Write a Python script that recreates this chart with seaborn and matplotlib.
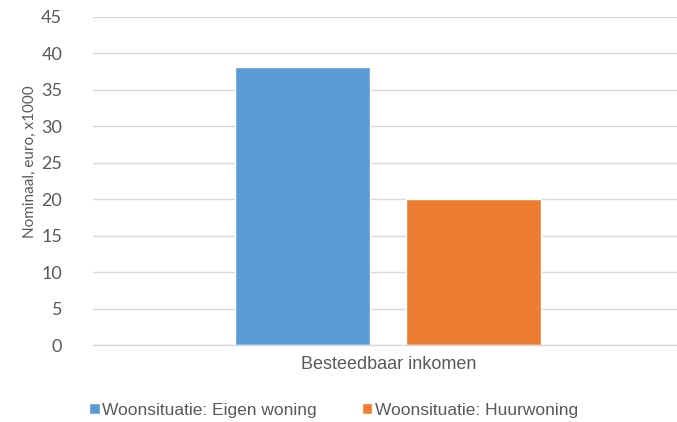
import matplotlib
matplotlib.use("Agg")
import matplotlib.pyplot as plt
import seaborn as sns
import pandas as pd

# ── Data ─────────────────────────────────────────────────────────────────────
categorie = ["Besteedbaar inkomen"]
woonsituatie = ["Woonsituatie: Eigen woning", "Woonsituatie: Huurwoning"]
waarden = [38.1, 20.0]          # nominaal, euro, x1000
kleuren = ["#5b9bd5", "#ed7d31"]
y_ticks = [0, 5, 10, 15, 20, 25, 30, 35, 40, 45]

df = pd.DataFrame({
    "categorie": categorie * len(woonsituatie),
    "woonsituatie": woonsituatie,
    "waarde": waarden,
})

sns.set_theme(style="white")
plt.rcParams["font.family"] = ["Lato", "DejaVu Sans"]

fig = plt.figure(figsize=(6.77, 4.22), dpi=100)
ax = fig.add_axes([0.137, 0.182, 0.873, 0.778])

sns.barplot(data=df, x="categorie", y="waarde", hue="woonsituatie",
            palette=kleuren, width=0.578, gap=0.21, saturation=1,
            ax=ax, legend=True)

ax.set_ylim(0, 45)
ax.set_xlim(-0.5, 0.5)
ax.set_yticks(y_ticks)
ax.yaxis.grid(True, color="#d9d9d9", linewidth=1)
ax.set_axisbelow(True)
for s in ["top", "right", "left"]:
    ax.spines[s].set_visible(False)
ax.spines["bottom"].set_color("#d9d9d9")
ax.spines["bottom"].set_linewidth(1)

ax.tick_params(axis="y", length=0, pad=22, labelsize=13, labelcolor="#595959")
ax.tick_params(axis="x", length=0, pad=8, labelsize=13, labelcolor="#595959")
for lbl in ax.get_xticklabels():
    lbl.set_family(["Liberation Sans", "DejaVu Sans"])
ax.set_xlabel("")
ax.set_ylabel("Nominaal, euro, x1000", fontsize=11, color="#595959", labelpad=4)
ax.yaxis.set_label_coords(-0.095, 0.558)

handles, labels = ax.get_legend_handles_labels()
ax.legend_.remove()
fig.legend(handles, labels, loc="center", bbox_to_anchor=(0.493, 0.028),
           ncol=2, frameon=False, handlelength=0.6, handleheight=0.6,
           handletextpad=0.15, columnspacing=2.6,
           prop={"family": ["Liberation Sans", "DejaVu Sans"], "size": 12.5},
           labelcolor="#595959")

plt.savefig("out.png", dpi=100)
plt.close()
